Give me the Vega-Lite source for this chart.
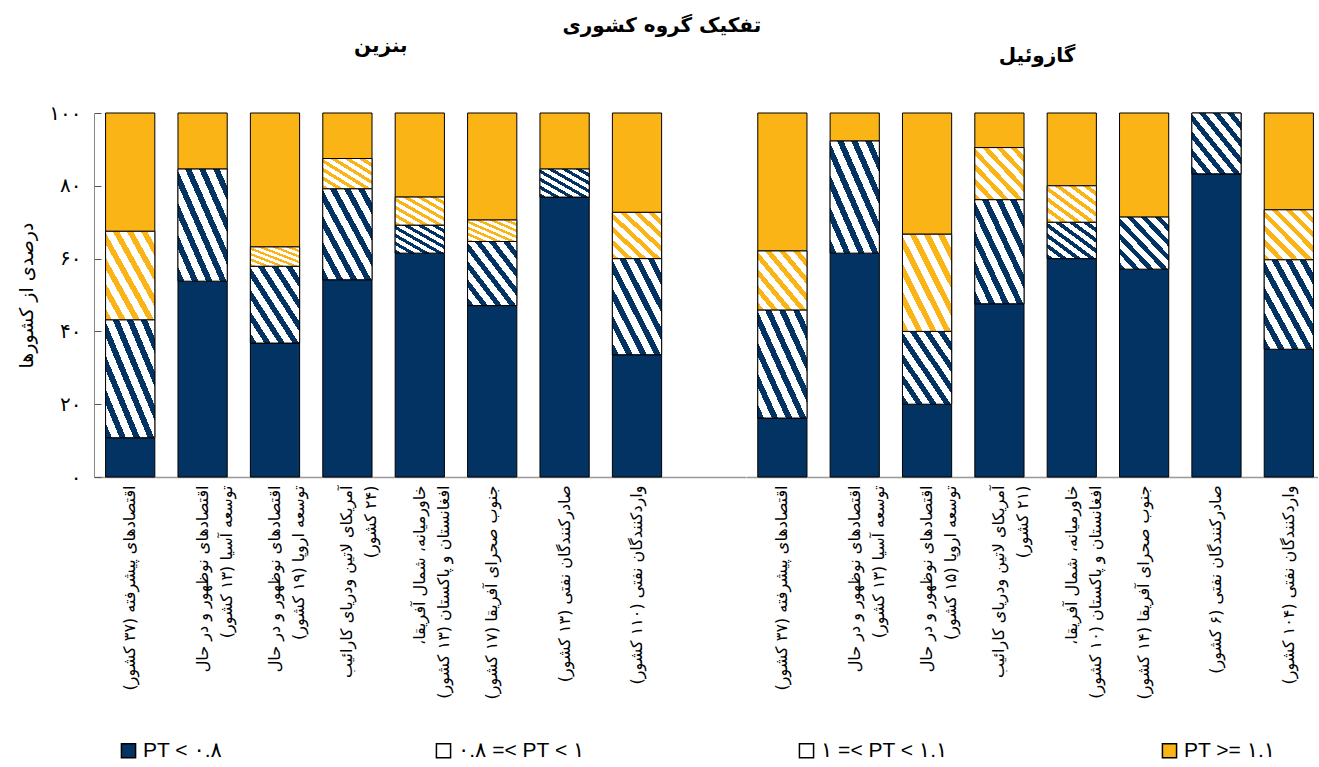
{
  "$schema": "https://vega.github.io/schema/vega-lite/v6.json",
  "background": "white",
  "padding": {"left": 17, "top": 16, "right": 0, "bottom": 0},
  "title": {"text": "تفکیک گروه کشوری", "font": "DejaVu Sans", "fontSize": 20, "fontWeight": "bold", "color": "black", "anchor": "middle", "offset": 0, "dx": -6},
  "config": {"view": {"stroke": null}},
  "data": {"values": [
    {"f": "b", "r": "\u200fاقتصادهای پیشرفته (۳۷ کشور)\u200f", "c": "PT <  ۰.۸", "v": 10.8},
    {"f": "b", "r": "\u200fاقتصادهای پیشرفته (۳۷ کشور)\u200f", "c": "۰.۸ =< PT <  ۱", "v": 32.4},
    {"f": "b", "r": "\u200fاقتصادهای پیشرفته (۳۷ کشور)\u200f", "c": "۱ =< PT <  ۱.۱", "v": 24.3},
    {"f": "b", "r": "\u200fاقتصادهای پیشرفته (۳۷ کشور)\u200f", "c": "PT >= ۱.۱", "v": 32.5},
    {"f": "b", "r": "\u200fاقتصادهای نوظهور و در حال\u200f\n\u200fتوسعه آسیا (۱۳ کشور)\u200f", "c": "PT <  ۰.۸", "v": 53.8},
    {"f": "b", "r": "\u200fاقتصادهای نوظهور و در حال\u200f\n\u200fتوسعه آسیا (۱۳ کشور)\u200f", "c": "۰.۸ =< PT <  ۱", "v": 30.8},
    {"f": "b", "r": "\u200fاقتصادهای نوظهور و در حال\u200f\n\u200fتوسعه آسیا (۱۳ کشور)\u200f", "c": "PT >= ۱.۱", "v": 15.4},
    {"f": "b", "r": "\u200fاقتصادهای نوظهور و در حال\u200f\n\u200fتوسعه اروپا (۱۹ کشور)\u200f", "c": "PT <  ۰.۸", "v": 36.8},
    {"f": "b", "r": "\u200fاقتصادهای نوظهور و در حال\u200f\n\u200fتوسعه اروپا (۱۹ کشور)\u200f", "c": "۰.۸ =< PT <  ۱", "v": 21.1},
    {"f": "b", "r": "\u200fاقتصادهای نوظهور و در حال\u200f\n\u200fتوسعه اروپا (۱۹ کشور)\u200f", "c": "۱ =< PT <  ۱.۱", "v": 5.3},
    {"f": "b", "r": "\u200fاقتصادهای نوظهور و در حال\u200f\n\u200fتوسعه اروپا (۱۹ کشور)\u200f", "c": "PT >= ۱.۱", "v": 36.8},
    {"f": "b", "r": "\u200fآمریکای لاتین ودریای کارائیب\u200f\n\u200f(۲۴ کشور)\u200f", "c": "PT <  ۰.۸", "v": 54.2},
    {"f": "b", "r": "\u200fآمریکای لاتین ودریای کارائیب\u200f\n\u200f(۲۴ کشور)\u200f", "c": "۰.۸ =< PT <  ۱", "v": 25.0},
    {"f": "b", "r": "\u200fآمریکای لاتین ودریای کارائیب\u200f\n\u200f(۲۴ کشور)\u200f", "c": "۱ =< PT <  ۱.۱", "v": 8.3},
    {"f": "b", "r": "\u200fآمریکای لاتین ودریای کارائیب\u200f\n\u200f(۲۴ کشور)\u200f", "c": "PT >= ۱.۱", "v": 12.5},
    {"f": "b", "r": "\u200fخاورمیانه، شمال آفریقا،\u200f\n\u200fافغانستان و پاکستان (۱۳ کشور)\u200f", "c": "PT <  ۰.۸", "v": 61.5},
    {"f": "b", "r": "\u200fخاورمیانه، شمال آفریقا،\u200f\n\u200fافغانستان و پاکستان (۱۳ کشور)\u200f", "c": "۰.۸ =< PT <  ۱", "v": 7.7},
    {"f": "b", "r": "\u200fخاورمیانه، شمال آفریقا،\u200f\n\u200fافغانستان و پاکستان (۱۳ کشور)\u200f", "c": "۱ =< PT <  ۱.۱", "v": 7.7},
    {"f": "b", "r": "\u200fخاورمیانه، شمال آفریقا،\u200f\n\u200fافغانستان و پاکستان (۱۳ کشور)\u200f", "c": "PT >= ۱.۱", "v": 23.1},
    {"f": "b", "r": "\u200fجنوب صحرای آفریقا (۱۷ کشور)\u200f", "c": "PT <  ۰.۸", "v": 47.1},
    {"f": "b", "r": "\u200fجنوب صحرای آفریقا (۱۷ کشور)\u200f", "c": "۰.۸ =< PT <  ۱", "v": 17.6},
    {"f": "b", "r": "\u200fجنوب صحرای آفریقا (۱۷ کشور)\u200f", "c": "۱ =< PT <  ۱.۱", "v": 5.9},
    {"f": "b", "r": "\u200fجنوب صحرای آفریقا (۱۷ کشور)\u200f", "c": "PT >= ۱.۱", "v": 29.4},
    {"f": "b", "r": "\u200fصادرکنندگان نفتی (۱۳ کشور)\u200f", "c": "PT <  ۰.۸", "v": 76.9},
    {"f": "b", "r": "\u200fصادرکنندگان نفتی (۱۳ کشور)\u200f", "c": "۰.۸ =< PT <  ۱", "v": 7.7},
    {"f": "b", "r": "\u200fصادرکنندگان نفتی (۱۳ کشور)\u200f", "c": "PT >= ۱.۱", "v": 15.4},
    {"f": "b", "r": "\u200fواردکنندگان نفتی (۱۱۰ کشور)\u200f", "c": "PT <  ۰.۸", "v": 33.6},
    {"f": "b", "r": "\u200fواردکنندگان نفتی (۱۱۰ کشور)\u200f", "c": "۰.۸ =< PT <  ۱", "v": 26.4},
    {"f": "b", "r": "\u200fواردکنندگان نفتی (۱۱۰ کشور)\u200f", "c": "۱ =< PT <  ۱.۱", "v": 12.7},
    {"f": "b", "r": "\u200fواردکنندگان نفتی (۱۱۰ کشور)\u200f", "c": "PT >= ۱.۱", "v": 27.3},
    {"f": "g", "r": "\u200fاقتصادهای پیشرفته (۳۷ کشور)\u200f", "c": "PT <  ۰.۸", "v": 16.2},
    {"f": "g", "r": "\u200fاقتصادهای پیشرفته (۳۷ کشور)\u200f", "c": "۰.۸ =< PT <  ۱", "v": 29.7},
    {"f": "g", "r": "\u200fاقتصادهای پیشرفته (۳۷ کشور)\u200f", "c": "۱ =< PT <  ۱.۱", "v": 16.2},
    {"f": "g", "r": "\u200fاقتصادهای پیشرفته (۳۷ کشور)\u200f", "c": "PT >= ۱.۱", "v": 37.9},
    {"f": "g", "r": "\u200fاقتصادهای نوظهور و در حال\u200f\n\u200fتوسعه آسیا (۱۳ کشور)\u200f", "c": "PT <  ۰.۸", "v": 61.5},
    {"f": "g", "r": "\u200fاقتصادهای نوظهور و در حال\u200f\n\u200fتوسعه آسیا (۱۳ کشور)\u200f", "c": "۰.۸ =< PT <  ۱", "v": 30.8},
    {"f": "g", "r": "\u200fاقتصادهای نوظهور و در حال\u200f\n\u200fتوسعه آسیا (۱۳ کشور)\u200f", "c": "PT >= ۱.۱", "v": 7.7},
    {"f": "g", "r": "\u200fاقتصادهای نوظهور و در حال\u200f\n\u200fتوسعه اروپا (۱۵ کشور)\u200f", "c": "PT <  ۰.۸", "v": 20.0},
    {"f": "g", "r": "\u200fاقتصادهای نوظهور و در حال\u200f\n\u200fتوسعه اروپا (۱۵ کشور)\u200f", "c": "۰.۸ =< PT <  ۱", "v": 20.0},
    {"f": "g", "r": "\u200fاقتصادهای نوظهور و در حال\u200f\n\u200fتوسعه اروپا (۱۵ کشور)\u200f", "c": "۱ =< PT <  ۱.۱", "v": 26.7},
    {"f": "g", "r": "\u200fاقتصادهای نوظهور و در حال\u200f\n\u200fتوسعه اروپا (۱۵ کشور)\u200f", "c": "PT >= ۱.۱", "v": 33.3},
    {"f": "g", "r": "\u200fآمریکای لاتین ودریای کارائیب\u200f\n\u200f(۲۱ کشور)\u200f", "c": "PT <  ۰.۸", "v": 47.6},
    {"f": "g", "r": "\u200fآمریکای لاتین ودریای کارائیب\u200f\n\u200f(۲۱ کشور)\u200f", "c": "۰.۸ =< PT <  ۱", "v": 28.6},
    {"f": "g", "r": "\u200fآمریکای لاتین ودریای کارائیب\u200f\n\u200f(۲۱ کشور)\u200f", "c": "۱ =< PT <  ۱.۱", "v": 14.3},
    {"f": "g", "r": "\u200fآمریکای لاتین ودریای کارائیب\u200f\n\u200f(۲۱ کشور)\u200f", "c": "PT >= ۱.۱", "v": 9.5},
    {"f": "g", "r": "\u200fخاورمیانه، شمال آفریقا،\u200f\n\u200fافغانستان و پاکستان (۱۰ کشور)\u200f", "c": "PT <  ۰.۸", "v": 60.0},
    {"f": "g", "r": "\u200fخاورمیانه، شمال آفریقا،\u200f\n\u200fافغانستان و پاکستان (۱۰ کشور)\u200f", "c": "۰.۸ =< PT <  ۱", "v": 10.0},
    {"f": "g", "r": "\u200fخاورمیانه، شمال آفریقا،\u200f\n\u200fافغانستان و پاکستان (۱۰ کشور)\u200f", "c": "۱ =< PT <  ۱.۱", "v": 10.0},
    {"f": "g", "r": "\u200fخاورمیانه، شمال آفریقا،\u200f\n\u200fافغانستان و پاکستان (۱۰ کشور)\u200f", "c": "PT >= ۱.۱", "v": 20.0},
    {"f": "g", "r": "\u200fجنوب صحرای آفریقا (۱۴ کشور)\u200f", "c": "PT <  ۰.۸", "v": 57.1},
    {"f": "g", "r": "\u200fجنوب صحرای آفریقا (۱۴ کشور)\u200f", "c": "۰.۸ =< PT <  ۱", "v": 14.3},
    {"f": "g", "r": "\u200fجنوب صحرای آفریقا (۱۴ کشور)\u200f", "c": "PT >= ۱.۱", "v": 28.6},
    {"f": "g", "r": "\u200fصادرکنندگان نفتی (۶ کشور)\u200f", "c": "PT <  ۰.۸", "v": 83.3},
    {"f": "g", "r": "\u200fصادرکنندگان نفتی (۶ کشور)\u200f", "c": "۰.۸ =< PT <  ۱", "v": 16.7},
    {"f": "g", "r": "\u200fواردکنندگان نفتی (۱۰۴ کشور)\u200f", "c": "PT <  ۰.۸", "v": 35.1},
    {"f": "g", "r": "\u200fواردکنندگان نفتی (۱۰۴ کشور)\u200f", "c": "۰.۸ =< PT <  ۱", "v": 24.6},
    {"f": "g", "r": "\u200fواردکنندگان نفتی (۱۰۴ کشور)\u200f", "c": "۱ =< PT <  ۱.۱", "v": 13.7},
    {"f": "g", "r": "\u200fواردکنندگان نفتی (۱۰۴ کشور)\u200f", "c": "PT >= ۱.۱", "v": 26.6}
  ]},
  "spacing": 0,
  "bounds": "flush",
  "resolve": {"scale": {"x": "independent"}},
  "hconcat": [
    {
      "width": 651.6,
      "height": 364,
      "title": {"text": "بنزین", "font": "DejaVu Sans", "fontSize": 20, "fontWeight": "bold", "color": "black", "frame": "group", "anchor": "middle", "dx": -39, "offset": 47},
      "transform": [
        {"filter": "datum.f == 'b'"},
        {"calculate": "indexof(['PT <  ۰.۸', '۰.۸ =< PT <  ۱', '۱ =< PT <  ۱.۱', 'PT >= ۱.۱'], datum.c)", "as": "o"},
        {"stack": "v", "groupby": ["r"], "sort": [{"field": "o", "order": "ascending"}], "as": ["y0", "y1"]}
      ],
      "encoding": {
        "x": {
          "field": "r", "type": "nominal", "sort": null,
          "scale": {"domain": [
            "\u200fاقتصادهای پیشرفته (۳۷ کشور)\u200f",
            "\u200fاقتصادهای نوظهور و در حال\u200f\n\u200fتوسعه آسیا (۱۳ کشور)\u200f",
            "\u200fاقتصادهای نوظهور و در حال\u200f\n\u200fتوسعه اروپا (۱۹ کشور)\u200f",
            "\u200fآمریکای لاتین ودریای کارائیب\u200f\n\u200f(۲۴ کشور)\u200f",
            "\u200fخاورمیانه، شمال آفریقا،\u200f\n\u200fافغانستان و پاکستان (۱۳ کشور)\u200f",
            "\u200fجنوب صحرای آفریقا (۱۷ کشور)\u200f",
            "\u200fصادرکنندگان نفتی (۱۳ کشور)\u200f",
            "\u200fواردکنندگان نفتی (۱۱۰ کشور)\u200f",
            "gap"
          ], "paddingInner": 0.32, "paddingOuter": 0.16},
          "axis": {"title": null, "ticks": false, "domainColor": "#999999", "domainWidth": 1.5, "labelAngle": 270, "labelAlign": "right", "labelBaseline": "middle", "labelFont": "DejaVu Sans", "labelFontSize": 16, "labelColor": "black", "labelLineHeight": 24, "labelPadding": 8, "labelLimit": 400, "labelOverlap": false, "labelExpr": "datum.value == 'gap' ? '' : split(datum.value, '\\n')"}
        },
        "y": {
          "field": "y0", "type": "quantitative",
          "scale": {"domain": [0, 100], "nice": false},
          "axis": {"title": "درصدی از کشورها", "titleFont": "DejaVu Sans", "titleFontSize": 19, "titleFontWeight": "normal", "titleColor": "black", "titlePadding": 12, "values": [0, 20, 40, 60, 80, 100], "labelExpr": "datum.value == 0 ? '۰' : datum.value == 20 ? '۲۰' : datum.value == 40 ? '۴۰' : datum.value == 60 ? '۶۰' : datum.value == 80 ? '۸۰' : '۱۰۰'", "labelFont": "DejaVu Sans", "labelFontSize": 20, "labelColor": "black", "tickSize": -7, "labelPadding": 20, "tickColor": "#555555", "domainColor": "#888888", "grid": false}
        },
        "y2": {"field": "y1"}
      },
      "layer": [
        {
          "mark": {"type": "bar", "stroke": "black", "strokeWidth": 1},
          "encoding": {
            "color": {
              "field": "c", "type": "nominal",
              "scale": {"domain": ["PT <  ۰.۸", "۰.۸ =< PT <  ۱", "۱ =< PT <  ۱.۱", "PT >= ۱.۱"], "range": ["#033363", "#ffffff", "#ffffff", "#fbb416"]},
              "legend": {"orient": "bottom", "direction": "horizontal", "columns": 4, "title": null, "labelFont": "Liberation Sans, DejaVu Sans", "labelFontSize": 21, "labelColor": "black", "symbolType": "square", "symbolSize": 200, "symbolStrokeColor": "black", "symbolStrokeWidth": 1.5, "labelOffset": 4, "columnPadding": 205, "offset": 17, "padding": 24, "labelLimit": 400,
                "encode": {"symbols": {"update": {
                  "stroke": {"value": "black"},
                  "strokeWidth": {"value": 1.5}
                }}}
              }
            }
          }
        },
        {
          "transform": [{"filter": "datum.o == 1"}],
          "mark": {"type": "bar", "stroke": "black", "strokeWidth": 1,
            "fill": {"gradient": "linear", "x1": 0, "y1": 1, "x2": 1, "y2": 0, "stops": [
              {"offset": 0, "color": "#033363"}, {"offset": 0.0643, "color": "#033363"}, {"offset": 0.0643, "color": "#ffffff"}, {"offset": 0.1429, "color": "#ffffff"},
              {"offset": 0.1429, "color": "#033363"}, {"offset": 0.2071, "color": "#033363"}, {"offset": 0.2071, "color": "#ffffff"}, {"offset": 0.2857, "color": "#ffffff"},
              {"offset": 0.2857, "color": "#033363"}, {"offset": 0.35, "color": "#033363"}, {"offset": 0.35, "color": "#ffffff"}, {"offset": 0.4286, "color": "#ffffff"},
              {"offset": 0.4286, "color": "#033363"}, {"offset": 0.4929, "color": "#033363"}, {"offset": 0.4929, "color": "#ffffff"}, {"offset": 0.5714, "color": "#ffffff"},
              {"offset": 0.5714, "color": "#033363"}, {"offset": 0.6357, "color": "#033363"}, {"offset": 0.6357, "color": "#ffffff"}, {"offset": 0.7143, "color": "#ffffff"},
              {"offset": 0.7143, "color": "#033363"}, {"offset": 0.7786, "color": "#033363"}, {"offset": 0.7786, "color": "#ffffff"}, {"offset": 0.8571, "color": "#ffffff"},
              {"offset": 0.8571, "color": "#033363"}, {"offset": 0.9214, "color": "#033363"}, {"offset": 0.9214, "color": "#ffffff"}, {"offset": 1, "color": "#ffffff"}
            ]}}
        },
        {
          "transform": [{"filter": "datum.o == 2"}],
          "mark": {"type": "bar", "stroke": "black", "strokeWidth": 1,
            "fill": {"gradient": "linear", "x1": 0, "y1": 1, "x2": 1, "y2": 0, "stops": [
              {"offset": 0, "color": "#fbb416"}, {"offset": 0.0643, "color": "#fbb416"}, {"offset": 0.0643, "color": "#ffffff"}, {"offset": 0.1429, "color": "#ffffff"},
              {"offset": 0.1429, "color": "#fbb416"}, {"offset": 0.2071, "color": "#fbb416"}, {"offset": 0.2071, "color": "#ffffff"}, {"offset": 0.2857, "color": "#ffffff"},
              {"offset": 0.2857, "color": "#fbb416"}, {"offset": 0.35, "color": "#fbb416"}, {"offset": 0.35, "color": "#ffffff"}, {"offset": 0.4286, "color": "#ffffff"},
              {"offset": 0.4286, "color": "#fbb416"}, {"offset": 0.4929, "color": "#fbb416"}, {"offset": 0.4929, "color": "#ffffff"}, {"offset": 0.5714, "color": "#ffffff"},
              {"offset": 0.5714, "color": "#fbb416"}, {"offset": 0.6357, "color": "#fbb416"}, {"offset": 0.6357, "color": "#ffffff"}, {"offset": 0.7143, "color": "#ffffff"},
              {"offset": 0.7143, "color": "#fbb416"}, {"offset": 0.7786, "color": "#fbb416"}, {"offset": 0.7786, "color": "#ffffff"}, {"offset": 0.8571, "color": "#ffffff"},
              {"offset": 0.8571, "color": "#fbb416"}, {"offset": 0.9214, "color": "#fbb416"}, {"offset": 0.9214, "color": "#ffffff"}, {"offset": 1, "color": "#ffffff"}
            ]}}
        }
      ]
    },
    {
      "width": 572,
      "height": 364,
      "title": {"text": "گازوئیل", "font": "DejaVu Sans", "fontSize": 20, "fontWeight": "bold", "color": "black", "frame": "group", "anchor": "middle", "dx": 5, "offset": 47},
      "transform": [
        {"filter": "datum.f == 'g'"},
        {"calculate": "indexof(['PT <  ۰.۸', '۰.۸ =< PT <  ۱', '۱ =< PT <  ۱.۱', 'PT >= ۱.۱'], datum.c)", "as": "o"},
        {"stack": "v", "groupby": ["r"], "sort": [{"field": "o", "order": "ascending"}], "as": ["y0", "y1"]}
      ],
      "encoding": {
        "x": {
          "field": "r", "type": "nominal", "sort": null,
          "scale": {"domain": [
            "\u200fاقتصادهای پیشرفته (۳۷ کشور)\u200f",
            "\u200fاقتصادهای نوظهور و در حال\u200f\n\u200fتوسعه آسیا (۱۳ کشور)\u200f",
            "\u200fاقتصادهای نوظهور و در حال\u200f\n\u200fتوسعه اروپا (۱۵ کشور)\u200f",
            "\u200fآمریکای لاتین ودریای کارائیب\u200f\n\u200f(۲۱ کشور)\u200f",
            "\u200fخاورمیانه، شمال آفریقا،\u200f\n\u200fافغانستان و پاکستان (۱۰ کشور)\u200f",
            "\u200fجنوب صحرای آفریقا (۱۴ کشور)\u200f",
            "\u200fصادرکنندگان نفتی (۶ کشور)\u200f",
            "\u200fواردکنندگان نفتی (۱۰۴ کشور)\u200f"
          ], "paddingInner": 0.32, "paddingOuter": 0.113, "align": 0.72},
          "axis": {"title": null, "ticks": false, "domainColor": "#999999", "domainWidth": 1.5, "labelAngle": 270, "labelAlign": "right", "labelBaseline": "middle", "labelFont": "DejaVu Sans", "labelFontSize": 16, "labelColor": "black", "labelLineHeight": 24, "labelPadding": 8, "labelLimit": 400, "labelOverlap": false, "labelExpr": "split(datum.value, '\\n')"}
        },
        "y": {
          "field": "y0", "type": "quantitative",
          "scale": {"domain": [0, 100], "nice": false},
          "axis": null
        },
        "y2": {"field": "y1"}
      },
      "layer": [
        {
          "mark": {"type": "bar", "stroke": "black", "strokeWidth": 1},
          "encoding": {
            "color": {"field": "c", "type": "nominal", "legend": null}
          }
        },
        {
          "transform": [{"filter": "datum.o == 1"}],
          "mark": {"type": "bar", "stroke": "black", "strokeWidth": 1,
            "fill": {"gradient": "linear", "x1": 0, "y1": 1, "x2": 1, "y2": 0, "stops": [
              {"offset": 0, "color": "#033363"}, {"offset": 0.0643, "color": "#033363"}, {"offset": 0.0643, "color": "#ffffff"}, {"offset": 0.1429, "color": "#ffffff"},
              {"offset": 0.1429, "color": "#033363"}, {"offset": 0.2071, "color": "#033363"}, {"offset": 0.2071, "color": "#ffffff"}, {"offset": 0.2857, "color": "#ffffff"},
              {"offset": 0.2857, "color": "#033363"}, {"offset": 0.35, "color": "#033363"}, {"offset": 0.35, "color": "#ffffff"}, {"offset": 0.4286, "color": "#ffffff"},
              {"offset": 0.4286, "color": "#033363"}, {"offset": 0.4929, "color": "#033363"}, {"offset": 0.4929, "color": "#ffffff"}, {"offset": 0.5714, "color": "#ffffff"},
              {"offset": 0.5714, "color": "#033363"}, {"offset": 0.6357, "color": "#033363"}, {"offset": 0.6357, "color": "#ffffff"}, {"offset": 0.7143, "color": "#ffffff"},
              {"offset": 0.7143, "color": "#033363"}, {"offset": 0.7786, "color": "#033363"}, {"offset": 0.7786, "color": "#ffffff"}, {"offset": 0.8571, "color": "#ffffff"},
              {"offset": 0.8571, "color": "#033363"}, {"offset": 0.9214, "color": "#033363"}, {"offset": 0.9214, "color": "#ffffff"}, {"offset": 1, "color": "#ffffff"}
            ]}}
        },
        {
          "transform": [{"filter": "datum.o == 2"}],
          "mark": {"type": "bar", "stroke": "black", "strokeWidth": 1,
            "fill": {"gradient": "linear", "x1": 0, "y1": 1, "x2": 1, "y2": 0, "stops": [
              {"offset": 0, "color": "#fbb416"}, {"offset": 0.0643, "color": "#fbb416"}, {"offset": 0.0643, "color": "#ffffff"}, {"offset": 0.1429, "color": "#ffffff"},
              {"offset": 0.1429, "color": "#fbb416"}, {"offset": 0.2071, "color": "#fbb416"}, {"offset": 0.2071, "color": "#ffffff"}, {"offset": 0.2857, "color": "#ffffff"},
              {"offset": 0.2857, "color": "#fbb416"}, {"offset": 0.35, "color": "#fbb416"}, {"offset": 0.35, "color": "#ffffff"}, {"offset": 0.4286, "color": "#ffffff"},
              {"offset": 0.4286, "color": "#fbb416"}, {"offset": 0.4929, "color": "#fbb416"}, {"offset": 0.4929, "color": "#ffffff"}, {"offset": 0.5714, "color": "#ffffff"},
              {"offset": 0.5714, "color": "#fbb416"}, {"offset": 0.6357, "color": "#fbb416"}, {"offset": 0.6357, "color": "#ffffff"}, {"offset": 0.7143, "color": "#ffffff"},
              {"offset": 0.7143, "color": "#fbb416"}, {"offset": 0.7786, "color": "#fbb416"}, {"offset": 0.7786, "color": "#ffffff"}, {"offset": 0.8571, "color": "#ffffff"},
              {"offset": 0.8571, "color": "#fbb416"}, {"offset": 0.9214, "color": "#fbb416"}, {"offset": 0.9214, "color": "#ffffff"}, {"offset": 1, "color": "#ffffff"}
            ]}}
        }
      ]
    }
  ]
}
